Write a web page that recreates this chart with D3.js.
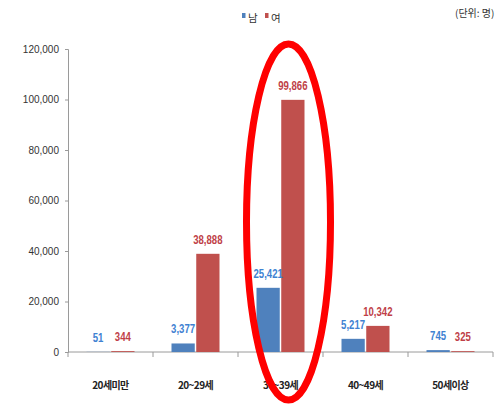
<!DOCTYPE html>
<html>
<head>
<meta charset="utf-8">
<script src="https://cdn.jsdelivr.net/npm/d3@7"></script>
<style>
  html, body { margin: 0; padding: 0; background: #fff; }
  svg { display: block; }
</style>
</head>
<body>
<svg id="chart" width="495" height="404"></svg>
<script>
// Age groups and counts by sex
const categories = ["20세미만", "20~29세", "30~39세", "40~49세", "50세이상"];
const seriesNames = ["남", "여"];
const male = [51, 3377, 25421, 5217, 745];
const female = [344, 38888, 99866, 10342, 325];
const yTicks = [0, 20000, 40000, 60000, 80000, 100000, 120000];
const highlighted = "30~39세";

const colors = { "남": "#4f81bd", "여": "#c0504d" };
const labelColors = { "남": "#3f82d2", "여": "#c03f48" };
const numFont = "'Liberation Sans', Arial, sans-serif";
const korFont = "'Noto Sans CJK KR', sans-serif";

const svg = d3.select("#chart");
const left = 68;

const x = d3.scaleBand().domain(categories).range([left, 493]).padding(0);
const y = d3.scaleLinear().domain([0, 120000]).range([352, 49]);
const inner = d3.scaleBand().domain(seriesNames).range([0, 48]).paddingInner(0.06);

const rows = categories.map((c, i) => ({ cat: c, values: [
  { key: "남", v: male[i] }, { key: "여", v: female[i] }
]}));

// y axis
const yAxis = svg.append("g")
  .attr("transform", `translate(${left},0)`)
  .call(d3.axisLeft(y).tickValues(yTicks).tickSize(3).tickPadding(6)
        .tickFormat(d3.format(",")));
yAxis.select(".domain").attr("stroke", "#9a9a9a");
yAxis.selectAll(".tick line").attr("stroke", "#9a9a9a");
yAxis.selectAll("text").attr("font-family", numFont).attr("font-size", 10).attr("fill", "#333");

// x axis with ticks at category boundaries
const xAxisG = svg.append("g").attr("transform", `translate(0,${y(0)})`);
xAxisG.append("line").attr("x1", x.range()[0]).attr("x2", x.range()[1])
  .attr("stroke", "#9a9a9a");
const bounds = categories.map(c => x(c)).concat([x.range()[1]]);
xAxisG.selectAll("line.tk").data(bounds).join("line").attr("class", "tk")
  .attr("x1", d => d).attr("x2", d => d).attr("y1", 0).attr("y2", 5)
  .attr("stroke", "#9a9a9a");
xAxisG.selectAll("text").data(categories).join("text")
  .attr("x", d => x(d) + x.bandwidth() / 2).attr("y", 37)
  .attr("text-anchor", "middle")
  .attr("font-family", korFont).attr("font-weight", "bold")
  .attr("font-size", 10).attr("letter-spacing", -0.6).attr("fill", "#222")
  .text(d => d);

// bars
const groups = svg.selectAll("g.grp").data(rows).join("g").attr("class", "grp")
  .attr("transform", d => `translate(${x(d.cat) + (x.bandwidth() - inner.range()[1]) / 2},0)`);
groups.selectAll("rect").data(d => d.values).join("rect")
  .attr("x", d => inner(d.key)).attr("width", inner.bandwidth())
  .attr("y", d => y(d.v)).attr("height", d => y(0) - y(d.v))
  .attr("fill", d => colors[d.key]);

// value labels, horizontally condensed
groups.selectAll("text").data(d => d.values).join("text")
  .attr("transform", d => {
    const tx = inner(d.key) + inner.bandwidth() / 2;
    const ty = Math.min(y(d.v) - 10, y(0) - 9);
    return `translate(${tx},${ty}) scale(0.8,1)`;
  })
  .attr("text-anchor", "middle")
  .attr("font-family", numFont).attr("font-weight", "bold").attr("font-size", 12)
  .attr("fill", d => labelColors[d.key])
  .text(d => d3.format(",")(d.v));

// legend
const legend = svg.append("g").attr("transform", "translate(242,10)");
seriesNames.forEach((s, i) => {
  const g = legend.append("g").attr("transform", `translate(${i * 23},0)`);
  g.append("rect").attr("x", 0).attr("y", 3).attr("width", 3.5).attr("height", 5).attr("fill", colors[s]);
  g.append("text").attr("x", 6).attr("y", 12).attr("font-family", korFont)
    .attr("font-size", 10.5).attr("fill", "#333").text(s);
});
svg.append("text").attr("x", 455).attr("y", 17).attr("font-family", korFont)
  .attr("font-size", 10).attr("fill", "#333").text("(단위: 명)");

// highlight ellipse around one group
svg.append("ellipse")
  .attr("cx", x(highlighted) + x.bandwidth() / 2 + 8)
  .attr("cy", 222).attr("rx", 42).attr("ry", 178)
  .attr("fill", "none").attr("stroke", "#ff0000").attr("stroke-width", 7);
</script>
</body>
</html>
